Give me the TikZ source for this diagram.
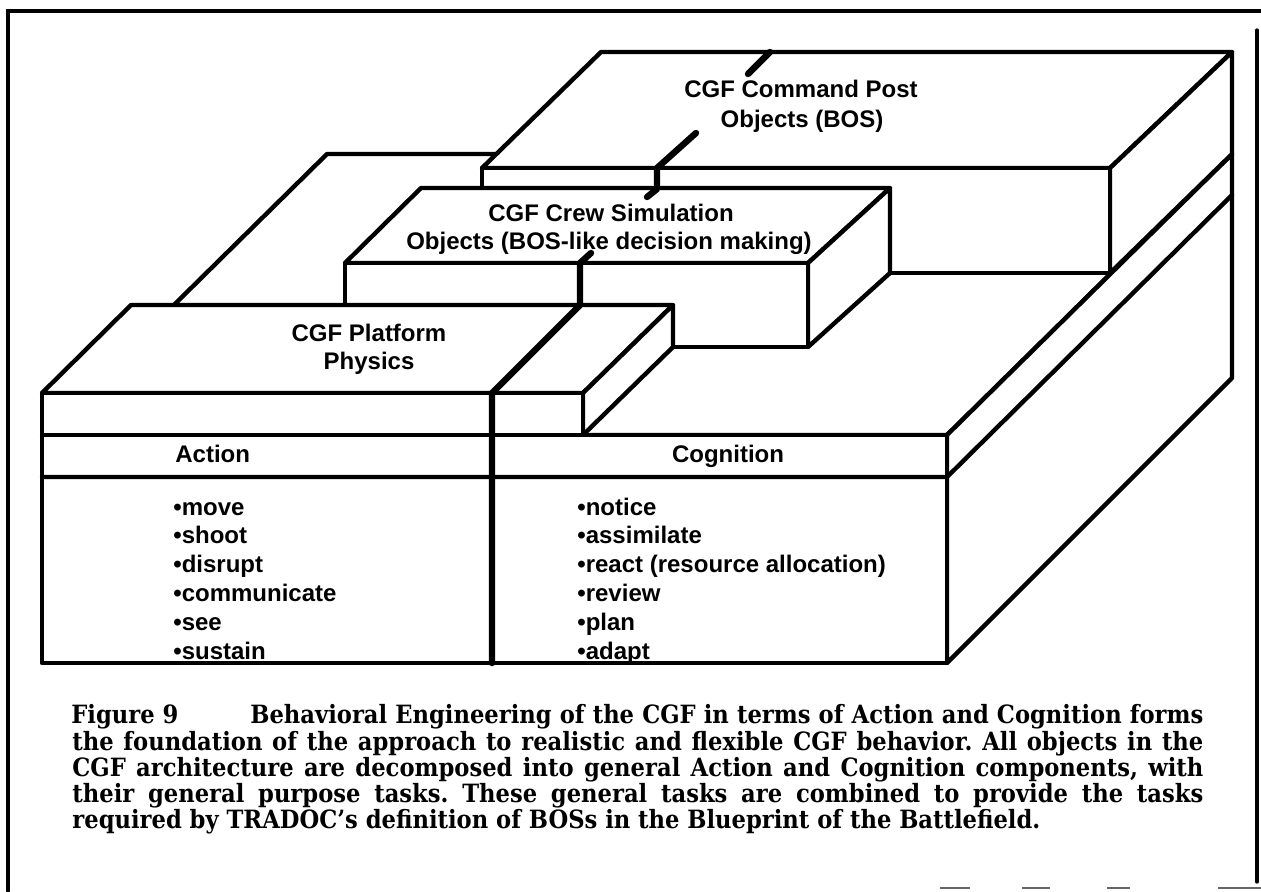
\documentclass[tikz,border=0pt]{standalone}
\usepackage{fontspec}
\setmainfont{Liberation Sans}
\newfontfamily\labelfont{Liberation Sans}
\newfontfamily\captionfont{DejaVu Serif}[FakeStretch=0.9]
\newlength\capw
% caption size chosen so the last caption line runs 968 px
\AtBeginDocument{%
  \settowidth\capw{\captionfont\bfseries\fontsize{10}{12}\selectfont required by TRADOC’s definition of BOSs in the Blueprint of the Battlefield.}%
  \pgfmathsetmacro\capsize{10*484/\capw}}
\begin{document}
\begin{tikzpicture}[x=0.5pt,y=-0.5pt,
  edge/.style={line width=2.2pt,line join=round,line cap=round},
  face/.style={edge,draw=black,fill=white},
  cutline/.style={line width=3.2pt,line cap=round,line join=round},
  border/.style={line width=1.6pt,line cap=round},
  scrap/.style={line width=1pt,black!60},
  lbl/.style={inner sep=0pt,anchor=base,font=\labelfont\bfseries\fontsize{12}{14}\selectfont},
  item/.style={lbl,anchor=base west},
  captext/.style={inner sep=0pt,anchor=base west,font=\captionfont\bfseries\frenchspacing\fontsize{\capsize}{12}\selectfont}]

\useasboundingbox (0,0) rectangle (1261,891);

% page frame
\draw[border] (8,891) -- (8,11) -- (1261,11);
\draw[border] (1257,30) -- (1257,882);
\draw[scrap] (940,888) -- (970,888);
\draw[scrap] (1022,888) -- (1050,888);
\draw[scrap] (1107,888) -- (1130,888);
\draw[scrap] (1218,888) -- (1261,888);

% base slab: Action / Cognition
\draw[face] (42,435) -- (947,435) -- (1232,154) -- (327,154) -- cycle;
\draw[face] (947,435) -- (1232,154) -- (1232,378) -- (947,663) -- cycle;
\draw[face] (42,435) rectangle (947,663);
\draw[edge] (42,477) -- (947,477) -- (1232,195);

% command post block (back)
\draw[face] (482,168) -- (1110,168) -- (1232,52) -- (601,52) -- cycle;
\draw[face] (1110,168) -- (1232,52) -- (1232,154) -- (1110,273) -- cycle;
\draw[face] (482,168) rectangle (1110,273);

% crew simulation block (middle)
\draw[face] (345,263) -- (808,263) -- (890,188) -- (421,188) -- cycle;
\draw[face] (808,263) -- (890,188) -- (890,273) -- (808,347) -- cycle;
\draw[face] (345,263) rectangle (808,347);

% platform block (front)
\draw[face] (42,393) -- (583,393) -- (673,305) -- (131,305) -- cycle;
\draw[face] (583,393) -- (673,305) -- (673,347) -- (583,435) -- cycle;
\draw[face] (42,393) rectangle (583,435);

% Action | Cognition cut through all blocks
\draw[cutline] (492,663) -- (492,393) -- (580,305) -- (580,263) -- (591,253);
\draw[cutline] (647,197) -- (657,189) -- (657,168) -- (696,133);
\draw[cutline] (748,74) -- (770,52);

% block labels
\node[lbl] (cpA) at (801,97) {CGF Command Post};
\node[lbl] (cpB) at (802,127) {Objects (BOS)};
\node[lbl] (crewA) at (611,221) {CGF Crew Simulation};
\node[lbl] (crewB) at (609,249) {Objects (BOS-like decision making)};
\node[lbl] (platA) at (369,341) {CGF Platform};
\node[lbl] (platB) at (369,369) {Physics};

% column heads
\node[item] (action) at (175,462) {Action};
\node[lbl] (cognition) at (728,462) {Cognition};

% task lists
\foreach \t [count=\i from 0] in {move,shoot,disrupt,communicate,see,sustain}
  \node[item] (a\i) at (173,{515+28.8*\i}) {•\t};
\foreach \t [count=\i from 0] in {notice,assimilate,react (resource allocation),review,plan,adapt}
  \node[item] (c\i) at (577,{515+28.8*\i}) {•\t};

% caption
\node[captext] (cap1a) at (71,723) {Figure 9};
\node[captext] (cap1b) at (250,723) {\makebox[476.5pt][s]{Behavioral Engineering of the CGF in terms of Action and Cognition forms}};
\node[captext] (cap2) at (72,750) {\makebox[565.5pt][s]{the foundation of the approach to realistic and flexible CGF behavior. All objects in the}};
\node[captext] (cap3) at (72,776) {\makebox[565.5pt][s]{CGF architecture are decomposed into general Action and Cognition components, with}};
\node[captext] (cap4) at (72,802) {\makebox[565.5pt][s]{their general purpose tasks. These general tasks are combined to provide the tasks}};
\node[captext] (cap5) at (72,828) {required by TRADOC’s definition of BOSs in the Blueprint of the Battlefield.};
\end{tikzpicture}
\end{document}
